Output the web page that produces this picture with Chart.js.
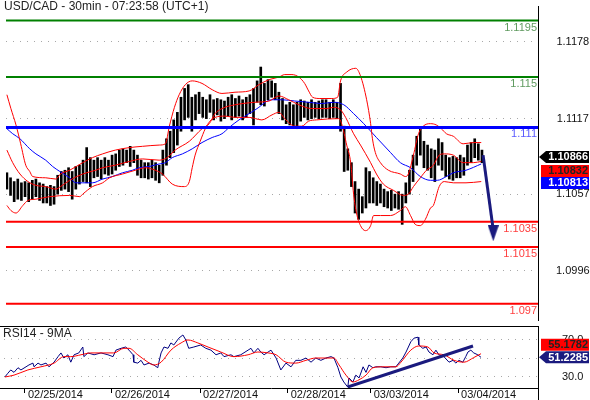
<!DOCTYPE html>
<html>
<head>
<meta charset="utf-8">
<title>USD/CAD 30min</title>
<script src="https://cdn.jsdelivr.net/npm/chart.js@4/dist/chart.umd.min.js"></script>
<style>
    html, body { margin: 0; padding: 0; background: #fff; }
    #wrap { position: relative; width: 590px; height: 400px; overflow: hidden; }
    #priceChart { position: absolute; left: 0; top: 0; }
    #rsiChart { position: absolute; left: 0; top: 326px; }
</style>
</head>
<body>
<div id="wrap">
    <canvas id="priceChart" width="590" height="326"></canvas>
    <canvas id="rsiChart" width="590" height="74"></canvas>
</div>
<script>
const FONT = 'Arial, "Liberation Sans", sans-serif';
Chart.defaults.font.family = FONT;

const chartTitle = 'USD/CAD - 30min - 07:23:58 (UTC+1)';
const rsiTitle = 'RSI14 - 9MA';

// x axis is counted in hourly bars from the first bar on the left
const xMin = -0.25;
const xMax = 146.45;
const dayStarts = [5.5, 29.4, 53.6, 77.7, 100.5, 124.5];
const dayLabels = ['02/25/2014', '02/26/2014', '02/27/2014', '02/28/2014', '03/03/2014', '03/04/2014'];

// price panel
const priceMin = 1.0957;
const priceMax = 1.12065;
const priceTicks = [1.0996, 1.1057, 1.1117, 1.1178];

const greenLevels = [1.1195, 1.115];
const blueLevels = [1.111];
const redLevels = [1.1035, 1.1015, 1.097];

const barHigh = [
    1.1074, 1.1070, 1.1067, 1.1069, 1.1066, 1.1067, 1.1066, 1.1068, 1.1069, 1.1066,
    1.1065, 1.1063, 1.1064, 1.1063, 1.1072, 1.1075, 1.1076, 1.1078, 1.1075, 1.1079,
    1.1080, 1.1084, 1.1094, 1.1086, 1.1084, 1.1086, 1.1084, 1.1086, 1.1084, 1.1088,
    1.1089, 1.1092, 1.1093, 1.1092, 1.1095, 1.1092, 1.1088, 1.1084, 1.1082, 1.1082,
    1.1084, 1.1082, 1.1080, 1.1092, 1.1101, 1.1107, 1.1116, 1.1122, 1.1134, 1.1141,
    1.1144, 1.1134, 1.1136, 1.1138, 1.1134, 1.1132, 1.1136, 1.1132, 1.1133, 1.1132,
    1.1131, 1.1134, 1.1136, 1.1133, 1.1135, 1.1132, 1.1134, 1.1136, 1.1141, 1.1147,
    1.1158, 1.1145, 1.1148, 1.1147, 1.1145, 1.1138, 1.1133, 1.1128, 1.1130, 1.1128,
    1.1130, 1.1132, 1.1131, 1.1130, 1.1132, 1.1130, 1.1131, 1.1132, 1.1132, 1.1130,
    1.1132, 1.1130, 1.1145, 1.1111, 1.1093, 1.1082, 1.1067, 1.1061, 1.1055, 1.1078,
    1.1075, 1.1070, 1.1067, 1.1065, 1.1061, 1.1059, 1.1060, 1.1057, 1.1059, 1.1057,
    1.1066, 1.1076, 1.1088, 1.1103, 1.1109, 1.1099, 1.1096, 1.1093, 1.1092, 1.1101,
    1.1098, 1.1088, 1.1086, 1.1087, 1.1086, 1.1088, 1.1086, 1.1096, 1.1098, 1.1101,
    1.1097, 1.1092
];
const barLow = [
    1.1061, 1.1056, 1.1051, 1.1053, 1.1052, 1.1055, 1.1051, 1.1053, 1.1055, 1.1052,
    1.1050, 1.1050, 1.1048, 1.1049, 1.1057, 1.1060, 1.1061, 1.1059, 1.1053, 1.1061,
    1.1065, 1.1067, 1.1066, 1.1063, 1.1070, 1.1071, 1.1069, 1.1073, 1.1072, 1.1073,
    1.1076, 1.1079, 1.1080, 1.1082, 1.1079, 1.1082, 1.1072, 1.1070, 1.1070, 1.1069,
    1.1070, 1.1068, 1.1066, 1.1072, 1.1080, 1.1086, 1.1090, 1.1096, 1.1107, 1.1116,
    1.1118, 1.1107, 1.1116, 1.1121, 1.1118, 1.1117, 1.1122, 1.1116, 1.1120, 1.1115,
    1.1117, 1.1119, 1.1116, 1.1118, 1.1119, 1.1116, 1.1118, 1.1121, 1.1112, 1.1130,
    1.1128, 1.1127, 1.1132, 1.1134, 1.1132, 1.1121, 1.1116, 1.1113, 1.1112, 1.1111,
    1.1109, 1.1115, 1.1118, 1.1116, 1.1117, 1.1118, 1.1117, 1.1118, 1.1118, 1.1117,
    1.1118, 1.1117, 1.1107, 1.1075, 1.1076, 1.1063, 1.1042, 1.1037, 1.1042, 1.1046,
    1.1050, 1.1050, 1.1048, 1.1050, 1.1047, 1.1046, 1.1044, 1.1046, 1.1045, 1.1033,
    1.1050, 1.1057, 1.1067, 1.1080, 1.1088, 1.1078, 1.1076, 1.1070, 1.1067, 1.1080,
    1.1076, 1.1071, 1.1069, 1.1068, 1.1070, 1.1070, 1.1072, 1.1080, 1.1082, 1.1086,
    1.1084, 1.1082
];

// bollinger bands (red) and moving average (blue)
const upperX = [0, 1.1, 2.5, 3.8, 5.2, 6.3, 7.1, 10.7, 13.5, 14.8, 17.3, 20.9, 23.6, 26.4, 29.9, 33.8, 37.4, 42.0, 43.7, 44.8,
    46.2, 47.5, 49.2, 51.1, 53.8, 56.6, 59.3, 62.9, 66.8, 69.5, 72.3, 75.0, 76.6, 78.6, 80.5, 82.1, 83.2, 84.3, 86.3, 89.6,
    91.2, 92.0, 93.7, 96.2, 97.5, 99.2, 100.3, 100.8, 101.6, 103.0, 105.2, 108.5, 109.9, 110.7, 112.1, 113.5, 114.8, 116.8, 118.4, 119.8,
    121.2, 123.1, 125.8, 128.6, 130.8];
const upperBand = [1.1136, 1.1125, 1.1112, 1.1097, 1.1080, 1.1075, 1.1071, 1.1070, 1.1069, 1.1073, 1.1076, 1.1082, 1.1086, 1.1089, 1.1092, 1.1094, 1.1095, 1.1096, 1.1097, 1.1111,
    1.1126, 1.1136, 1.1144, 1.1147, 1.1145, 1.1140, 1.1137, 1.1138, 1.1139, 1.1144, 1.1148, 1.1150, 1.1152, 1.1152, 1.1150, 1.1145, 1.1139, 1.1134, 1.1133, 1.1133,
    1.1134, 1.1147, 1.1154, 1.1157, 1.1151, 1.1132, 1.1113, 1.1101, 1.1090, 1.1082, 1.1076, 1.1073, 1.1071, 1.1073, 1.1088, 1.1105, 1.1111, 1.1113, 1.1112, 1.1109,
    1.1105, 1.1103, 1.1097, 1.1098, 1.1098];

const middleX = [0, 1.6, 3.6, 5.8, 8.0, 10.7, 13.5, 14.8, 17.3, 20.9, 24.5, 26.4, 29.9, 33.8, 37.4, 42.0, 44.2, 46.4, 50.3, 53.8,
    55.8, 57.4, 59.3, 62.9, 68.4, 72.3, 75.0, 77.7, 80.5, 84.1, 88.2, 90.1, 92.0, 93.4, 95.6, 97.5, 100.3, 101.9, 103.8, 106.6,
    109.3, 110.7, 112.1, 114.0, 115.7, 117.6, 119.2, 120.6, 123.1, 125.8, 128.6, 130.8];
const middleBand = [1.1092, 1.1082, 1.1073, 1.1067, 1.1064, 1.1063, 1.1061, 1.1063, 1.1068, 1.1073, 1.1076, 1.1078, 1.1080, 1.1083, 1.1085, 1.1084, 1.1086, 1.1092, 1.1099, 1.1109,
    1.1113, 1.1121, 1.1125, 1.1128, 1.1130, 1.1131, 1.1135, 1.1132, 1.1128, 1.1125, 1.1125, 1.1126, 1.1124, 1.1118, 1.1105, 1.1096, 1.1082, 1.1073, 1.1065, 1.1060,
    1.1056, 1.1057, 1.1063, 1.1070, 1.1076, 1.1080, 1.1088, 1.1089, 1.1088, 1.1082, 1.1082, 1.1083];

const lowerX = [0, 1.1, 2.5, 4.4, 5.8, 8.0, 11.8, 17.3, 20.1, 20.9, 23.6, 26.4, 28.3, 31.9, 35.4, 38.2, 40.9, 42.9, 45.6, 48.9,
    50.3, 51.1, 51.9, 53.3, 54.7, 56.0, 57.4, 60.2, 62.9, 66.8, 70.3, 73.1, 75.0, 76.6, 79.4, 81.3, 83.2, 85.4, 91.5, 92.3,
    93.7, 94.8, 95.6, 96.4, 97.5, 98.9, 100.3, 101.1, 103.0, 105.8, 108.5, 109.9, 111.3, 112.6, 114.0, 115.4, 116.8, 117.6, 119.2, 120.6,
    123.1, 126.6, 130.8];
const lowerBand = [1.1048, 1.1044, 1.1042, 1.1048, 1.1052, 1.1053, 1.1055, 1.1056, 1.1055, 1.1057, 1.1063, 1.1066, 1.1070, 1.1073, 1.1076, 1.1078, 1.1076, 1.1073, 1.1065, 1.1063,
    1.1067, 1.1078, 1.1088, 1.1099, 1.1109, 1.1115, 1.1118, 1.1119, 1.1118, 1.1118, 1.1116, 1.1120, 1.1122, 1.1117, 1.1111, 1.1111, 1.1115, 1.1116, 1.1117, 1.1113,
    1.1096, 1.1082, 1.1057, 1.1042, 1.1032, 1.1028, 1.1032, 1.1040, 1.1040, 1.1040, 1.1044, 1.1047, 1.1040, 1.1033, 1.1032, 1.1037, 1.1046, 1.1048, 1.1063, 1.1067,
    1.1066, 1.1066, 1.1067];

const maX = [0, 1.6, 3.6, 6.3, 8.0, 10.7, 12.6, 14.6, 17.3, 19.0, 20.9, 23.6, 26.4, 29.1, 31.9, 34.6, 36.5, 39.3, 42.0, 43.7,
    45.6, 48.4, 51.1, 53.8, 56.6, 59.3, 61.3, 64.0, 66.8, 69.5, 71.2, 73.1, 75.8, 79.4, 83.2, 86.8, 90.1, 92.9, 95.6, 98.4,
    101.9, 105.8, 108.5, 111.3, 114.0, 116.8, 118.7, 121.2, 123.1, 126.6, 130.8];
const maLine = [1.1109, 1.1105, 1.1101, 1.1093, 1.1089, 1.1084, 1.1079, 1.1075, 1.1070, 1.1066, 1.1066, 1.1066, 1.1069, 1.1071, 1.1074, 1.1076, 1.1078, 1.1079, 1.1081, 1.1082,
    1.1086, 1.1089, 1.1093, 1.1098, 1.1102, 1.1105, 1.1110, 1.1116, 1.1121, 1.1126, 1.1130, 1.1132, 1.1132, 1.1131, 1.1130, 1.1129, 1.1130, 1.1128, 1.1121, 1.1113,
    1.1102, 1.1090, 1.1082, 1.1078, 1.1071, 1.1068, 1.1068, 1.1071, 1.1074, 1.1076, 1.1081];

const lastClose = 1.10866;
const lastBasis = 1.10832;
const lastMa = 1.10813;

// projected move arrow
const arrowX = [131.3, 134.0];
const arrowY = [1.1088, 1.1031];
const arrowTip = { x: 134.1, y: 1.10259 };

// RSI panel
const rsiMin = 18.1;
const rsiMax = 85.1;
const rsiTicks = [30, 50, 70];

const rsiX = [0, 0.8, 1.6, 2.5, 3.6, 4.4, 5.8, 6.6, 7.7, 8.0, 9.1, 9.9, 11.3, 12.1, 13.5, 14.6, 15.4, 16.2, 17.3, 18.1,
    19.0, 20.3, 21.4, 21.7, 22.8, 24.5, 26.4, 28.3, 29.7, 30.5, 31.9, 33.2, 34.1, 35.2, 35.4, 36.5, 37.4, 38.2, 39.6, 40.9,
    42.0, 42.3, 42.9, 43.7, 44.8, 45.6, 46.4, 47.8, 48.9, 49.7, 50.5, 51.9, 53.8, 55.2, 56.6, 58.0, 59.3, 60.2, 62.1, 62.9,
    64.8, 66.8, 67.6, 68.4, 69.5, 70.3, 71.2, 72.3, 73.1, 74.5, 75.8, 77.2, 78.6, 79.9, 81.3, 82.7, 84.1, 85.4, 86.8, 88.2,
    89.6, 90.4, 91.5, 92.3, 93.1, 94.2, 94.5, 95.6, 96.4, 97.3, 98.4, 99.2, 100.0, 101.1, 101.9, 103.3, 104.7, 106.0, 107.4, 108.2,
    109.3, 110.2, 111.5, 112.4, 113.5, 113.7, 114.8, 115.7, 116.5, 117.6, 118.4, 119.2, 120.6, 122.0, 123.1, 123.9, 124.7, 125.8, 126.6, 127.2,
    128.0, 128.8, 129.9, 130.8];
const rsiValues = [30, 34, 37.6, 35, 40, 37.6, 41, 43, 45, 41, 45, 43, 45, 41, 46, 52, 56, 50.5, 54, 46,
    54, 56, 62.4, 52, 56, 54, 56, 54, 52, 59, 61, 62.4, 59, 54, 46, 45, 48, 43, 45, 43,
    40, 46, 56, 62.4, 61, 66.8, 64.6, 72, 75.4, 70, 61, 62.4, 64.6, 61, 59, 54, 56, 52, 54, 52,
    54, 59, 61, 56, 61, 57, 54, 57, 59, 50.5, 37.6, 45, 41, 48, 48, 50.5, 46, 50.5, 48, 50.5,
    52, 50.5, 40, 30, 24.6, 19, 29, 24.6, 32, 29, 41, 35, 43, 40, 41, 41, 40, 41, 41, 45,
    50.5, 57, 68, 72, 73, 64.6, 61, 62.4, 57, 54, 59, 54, 52, 46, 48, 45, 48, 46, 52, 57,
    59, 56, 54, 51.2285];

const rsiMaX = [0, 2.5, 6.3, 9.9, 13.5, 16.2, 18.1, 20.9, 23.6, 27.2, 29.9, 32.7, 34.1, 36.5, 39.3, 40.9, 42.9, 45.6, 48.4, 50.3,
    53.0, 55.8, 59.3, 62.9, 66.8, 69.5, 72.3, 74.5, 77.2, 79.9, 82.7, 85.4, 88.2, 90.4, 91.8, 93.7, 95.6, 97.3, 99.2, 101.1,
    103.8, 107.4, 108.8, 111.5, 113.7, 116.2, 117.9, 120.6, 123.4, 126.1, 128.8, 130.8];
const rsiMaValues = [30, 32, 37.6, 41, 45, 52, 52, 54, 56, 56, 56, 61, 61, 54, 46, 43, 46, 59, 66.8, 70,
    66.8, 62.4, 57, 52, 54, 57, 56, 54, 46, 45, 48, 50.5, 50.5, 50.5, 43, 32, 24.6, 27, 32, 40,
    41, 41, 46, 59, 63.5, 62.4, 56, 54, 48, 46, 51, 55.1782];

const trendX = [94.2, 128.6];
const trendY = [19.2, 63.5];

const NAVY = '#1a1a7e';

function points(xs, ys) {
    return xs.map((x, i) => ({ x: x, y: ys[i] }));
}

function levelLine(v, color, width) {
    return {
        type: 'line',
        data: [{ x: xMin, y: v }, { x: xMax, y: v }],
        borderColor: color,
        borderWidth: width,
        pointRadius: 0,
        order: 5
    };
}

function bandLine(xs, ys, color) {
    return {
        type: 'line',
        data: points(xs, ys),
        borderColor: color,
        borderWidth: 1,
        pointRadius: 0,
        cubicInterpolationMode: 'monotone',
        order: 7
    };
}

function drawTag(ctx, left, text, yc, bg, fg, withArrow) {
    const h = 12;
    const boxLeft = withArrow ? left + 8 : left + 3;
    const right = left + 51;
    ctx.fillStyle = bg;
    ctx.beginPath();
    if (withArrow) {
        ctx.moveTo(left + 1, yc);
        ctx.lineTo(boxLeft, yc - h / 2);
    } else {
        ctx.moveTo(boxLeft, yc - h / 2);
    }
    ctx.lineTo(right, yc - h / 2);
    ctx.lineTo(right, yc + h / 2);
    ctx.lineTo(boxLeft, yc + h / 2);
    ctx.closePath();
    ctx.fill();
    ctx.fillStyle = fg;
    ctx.font = 'bold 11px ' + FONT;
    ctx.textAlign = 'right';
    ctx.textBaseline = 'middle';
    ctx.fillText(text, right - 1, yc + 0.5);
}

// arrow head bitmap used as point style
const arrowHead = document.createElement('canvas');
arrowHead.width = 11;
arrowHead.height = 16;
const ah = arrowHead.getContext('2d');
ah.fillStyle = NAVY;
ah.beginPath();
ah.moveTo(0, 0);
ah.lineTo(11, 0);
ah.lineTo(5.5, 16);
ah.closePath();
ah.fill();

const priceDecor = {
    id: 'priceDecor',
    afterDraw(chart) {
        const ctx = chart.ctx;
        const ca = chart.chartArea;
        const y = chart.scales.y;
        ctx.save();
        ctx.font = '12px ' + FONT;
        ctx.fillStyle = '#222';
        ctx.textAlign = 'left';
        ctx.textBaseline = 'middle';
        ctx.fillText(chartTitle, 4, 7);

        ctx.font = '11px ' + FONT;
        ctx.textAlign = 'right';
        const groups = [[greenLevels, '#5f9a5f'], [blueLevels, '#5a5aff'], [redLevels, '#ff4040']];
        groups.forEach(g => {
            g[0].forEach(v => {
                ctx.fillStyle = g[1];
                ctx.fillText(String(v), ca.right - 1, y.getPixelForValue(v) + 7);
            });
        });

        const y1 = y.getPixelForValue(lastClose);
        const y2 = Math.max(y.getPixelForValue(lastBasis), y1 + 14);
        const y3 = Math.max(y.getPixelForValue(lastMa), y2 + 12);
        drawTag(ctx, ca.right, lastBasis.toFixed(5), y2, '#ff0000', '#222', false);
        drawTag(ctx, ca.right, lastMa.toFixed(5), y3, '#0000ff', '#fff', false);
        drawTag(ctx, ca.right, lastClose.toFixed(5), y1, '#000', '#fff', true);
        ctx.restore();
    }
};

const rsiDecor = {
    id: 'rsiDecor',
    afterDraw(chart) {
        const ctx = chart.ctx;
        const ca = chart.chartArea;
        const y = chart.scales.y;
        ctx.save();
        ctx.fillStyle = '#000';
        ctx.fillRect(0, 0, Math.round(ca.right) + 1, 1);
        ctx.fillRect(0, Math.round(ca.bottom), Math.round(ca.left) + 1, 1);
        ctx.fillRect(Math.round(ca.right), Math.round(ca.bottom), 1, chart.height - ca.bottom);

        ctx.font = '12px ' + FONT;
        ctx.fillStyle = '#222';
        ctx.textAlign = 'left';
        ctx.textBaseline = 'middle';
        ctx.fillText(rsiTitle, 3, 8);

        const lastRsi = rsiValues[rsiValues.length - 1];
        const lastRsiMa = rsiMaValues[rsiMaValues.length - 1];
        const yN = y.getPixelForValue(lastRsi);
        const yR = Math.min(y.getPixelForValue(lastRsiMa), yN - 12.5);
        drawTag(ctx, ca.right, lastRsiMa.toFixed(4), yR, '#ff0000', '#222', false);
        drawTag(ctx, ca.right, lastRsi.toFixed(4), yN, NAVY, '#fff', true);
        ctx.restore();
    }
};

const ctxPrice = document.getElementById('priceChart').getContext('2d');
const ctxRsi = document.getElementById('rsiChart').getContext('2d');

const priceChart = new Chart(ctxPrice, {
    type: 'bar',
    data: {
        datasets: [
            {
                type: 'bar',
                data: barHigh.map((h, i) => ({ x: i, y: [barLow[i], h] })),
                backgroundColor: '#000',
                barThickness: 2,
                grouped: false,
                order: 10
            },
            {
                type: 'line',
                data: points(maX, maLine),
                borderColor: '#0000ff',
                borderWidth: 1,
                pointRadius: 0,
                cubicInterpolationMode: 'monotone',
                order: 8
            },
            bandLine(upperX, upperBand, '#ff0000'),
            bandLine(middleX, middleBand, '#ff0000'),
            bandLine(lowerX, lowerBand, '#ff0000'),
            ...greenLevels.map(v => levelLine(v, '#008000', 2)),
            ...blueLevels.map(v => levelLine(v, '#0000ff', 3)),
            ...redLevels.map(v => levelLine(v, '#ff0000', 2)),
            {
                type: 'line',
                data: points(arrowX, arrowY),
                borderColor: NAVY,
                borderWidth: 3,
                pointRadius: 0,
                clip: false,
                order: 2
            },
            {
                type: 'scatter',
                data: [arrowTip],
                pointStyle: arrowHead,
                pointRadius: 5,
                clip: false,
                order: 1
            }
        ]
    },
    options: {
        responsive: false,
        animation: false,
        devicePixelRatio: 1,
        events: [],
        layout: { padding: { left: 4, right: 0, top: 0, bottom: 0 } },
        plugins: { legend: { display: false }, tooltip: { enabled: false } },
        scales: {
            x: { type: 'linear', min: xMin, max: xMax, offset: false, display: false },
            y: {
                position: 'right',
                min: priceMin,
                max: priceMax,
                bounds: 'data',
                afterBuildTicks: s => { s.ticks = priceTicks.map(v => ({ value: v })); },
                afterFit: s => { s.width = 52; s.paddingTop = 0; s.paddingBottom = 0; },
                ticks: {
                    callback: v => v.toFixed(4),
                    color: '#111',
                    font: { size: 11 },
                    padding: 18,
                    crossAlign: 'center'
                },
                grid: { color: '#a8a8a8', lineWidth: 1, drawTicks: false },
                border: { display: true, color: '#000', dash: [1, 6] }
            }
        }
    },
    plugins: [priceDecor]
});

const rsiChart = new Chart(ctxRsi, {
    type: 'line',
    data: {
        datasets: [
            { data: points(trendX, trendY), borderColor: NAVY, borderWidth: 3, pointRadius: 0, order: 0 },
            { data: points(rsiMaX, rsiMaValues), borderColor: '#ff0000', borderWidth: 1, pointRadius: 0, cubicInterpolationMode: 'monotone', order: 1 },
            { data: points(rsiX, rsiValues), borderColor: '#000080', borderWidth: 1, pointRadius: 0, order: 2 }
        ]
    },
    options: {
        responsive: false,
        animation: false,
        devicePixelRatio: 1,
        events: [],
        layout: { padding: { left: 4, right: 0, top: 0, bottom: 0 } },
        plugins: { legend: { display: false }, tooltip: { enabled: false } },
        scales: {
            x: {
                type: 'linear',
                min: xMin,
                max: xMax,
                offset: false,
                bounds: 'data',
                afterBuildTicks: s => { s.ticks = dayStarts.map(v => ({ value: v })); },
                afterFit: s => { s.height = 12; s.paddingLeft = 0; s.paddingRight = 0; },
                ticks: {
                    callback: (v, i) => dayLabels[i],
                    align: 'start',
                    labelOffset: 3,
                    padding: -5,
                    autoSkip: false,
                    maxRotation: 0,
                    color: '#111',
                    font: { size: 11 }
                },
                grid: { drawOnChartArea: false, drawTicks: true, tickLength: 5, color: '#000', offset: false },
                border: { display: true, color: '#000' }
            },
            y: {
                position: 'right',
                min: rsiMin,
                max: rsiMax,
                bounds: 'data',
                afterBuildTicks: s => { s.ticks = rsiTicks.map(v => ({ value: v })); },
                afterFit: s => { s.width = 52; s.paddingTop = 0; s.paddingBottom = 0; },
                ticks: {
                    callback: v => (v === 50 ? '' : v.toFixed(1)),
                    color: '#111',
                    font: { size: 11 },
                    padding: 24,
                    crossAlign: 'center'
                },
                grid: { color: '#a8a8a8', lineWidth: 1, drawTicks: false },
                border: { display: true, color: '#000', dash: [1, 6] }
            }
        }
    },
    plugins: [rsiDecor]
});
</script>
</body>
</html>
